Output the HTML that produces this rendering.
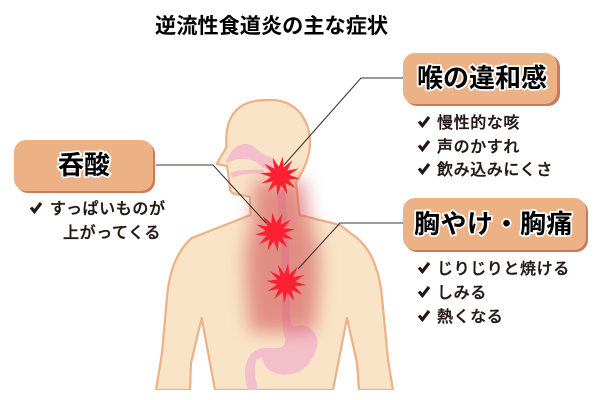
<!DOCTYPE html>
<html lang="ja">
<head>
<meta charset="utf-8">
<title>逆流性食道炎の主な症状</title>
<style>
html,body{margin:0;padding:0;background:#fff;width:600px;height:400px;overflow:hidden}
svg{display:block}
text{font-family:"Liberation Sans","Noto Sans CJK JP",sans-serif}
.t{font-size:26px;font-weight:700;fill:#000;stroke:#fff;stroke-width:3.5px;paint-order:stroke;stroke-linejoin:round;text-anchor:start}
.l{font-size:16px;font-weight:500;fill:#231815;stroke:#231815;stroke-width:.35px;letter-spacing:.6px}
.c{fill:none;stroke:#231815;stroke-width:3.2;stroke-linejoin:miter}
</style>
</head>
<body>
<svg width="600" height="400" viewBox="0 0 600 400" xmlns="http://www.w3.org/2000/svg">
<defs>
<filter id="b" filterUnits="userSpaceOnUse" x="190" y="140" width="190" height="250"><feGaussianBlur stdDeviation="9"/></filter>
<polygon id="s" fill="#fc2033" points="20,0 9,2.4 17.3,10 6.5,6.5 10,17.3 2.4,9 0,20 -2.4,9 -10,17.3 -6.5,6.5 -17.3,10 -9,2.4 -20,0 -9,-2.4 -17.3,-10 -6.5,-6.5 -10,-17.3 -2.4,-9 0,-20 2.4,-9 10,-17.3 6.5,-6.5 17.3,-10 9,-2.4"/>
<path id="k" class="c" d="M-5,-.5 L-1.6,3.6 L5,-5"/>
</defs>

<!-- body -->
<path fill="#f9e4c8" stroke="#ecb285" stroke-width="2.2" stroke-linejoin="round" d="M216.7,164 L226.5,147 C225,128 230,114 240,107 C250,100 262,100 270,100 C285,100 296,106 303,117 C310,128 312,143 308,157 C305,168 300,176 296,182 L299.5,215 L340,225 L357,238 C366,246 372,256 375,265 C379,276 381,286 382,297 L388,360 L393,390 L359,390 L357,363 L347,318 L333,390 L215,390 L201.7,318 L191,363 L190,390 L156,390 L162,353 L167,297 C168,285 170,276 173,267 C177,255 184,245 191.7,238 L250.5,215 L250,197 C244,195 240,195 235,194 C231,193 230,191 230,188 L228,172 L227,166 L216.7,164 Z"/>
<rect x="140" y="390" width="270" height="10" fill="#fff"/>

<!-- organs -->
<g fill="#f3bfca">
<path d="M226,162 C229,154 234,146 243,144 C250,143 255,147 260,152 C265,156 270,156 273,159 L274,171 L263,168 C260,165 257,161 250,160 C243,158 234,159 228,163 Z"/>
<path d="M230,173 C238,170 250,169 264,170 L264,175 C252,172 242,174 233,178 Z"/>
<path d="M277,190 L285,190 L289,247 L290,313 C290,320 291,324 293,327 C299,325 306,324 311,329 C317,334 319,342 316,350 C312,362 303,372 292,374 C282,376 272,373 267,368 C263,364 262,358 262,358 C259,358 256,359 256,362 C254,368 255,378 258,390 L248,390 C245,380 244,372 246,365 C248,355 254,349 265,348 L278,348 C283,347 286,344 285,338 C283,330 282,322 282,313 L281,247 Z"/>
</g>

<!-- glow -->
<g filter="url(#b)" opacity=".62">
<path fill="#d4585c" d="M254,180 L304,180 L310,222 L319,250 L319,290 L314,332 L250,332 L246,290 L245,250 L252,222 Z"/>
</g>

<!-- leaders -->
<g fill="none" stroke="#3c3532" stroke-width="1.1">
<path d="M404,78 L361,78 L284,165"/>
<path d="M156,165 L213,165 L266,223"/>
<path d="M404,223 L340,223 L298,269"/>
</g>

<!-- stars -->
<use href="#s" transform="translate(280,176) rotate(8)"/>
<use href="#s" transform="translate(275,232) rotate(-8)"/>
<use href="#s" transform="translate(286,283) rotate(6)"/>

<!-- title -->
<text x="155" y="33" style="font-size:21.2px;font-weight:700" fill="#000">逆流性食道炎の主な症状</text>

<!-- boxes -->
<rect x="405" y="55" width="155" height="51" rx="12" fill="#cc7a5e"/>
<rect x="403" y="53" width="154" height="51" rx="12" fill="#ecb285"/>
<text class="t" x="417" y="87">喉の違和感</text>

<rect x="16" y="142" width="139" height="51" rx="12" fill="#cc7a5e"/>
<rect x="14" y="140" width="139" height="51" rx="12" fill="#ecb285"/>
<text class="t" x="58" y="174">呑酸</text>

<rect x="405" y="200" width="183" height="52" rx="12" fill="#cc7a5e"/>
<rect x="403" y="198" width="183" height="52" rx="12" fill="#ecb285"/>
<text class="t" x="414" y="233" style="letter-spacing:.5px">胸やけ・胸痛</text>

<!-- lists -->
<use href="#k" x="424" y="122"/>
<use href="#k" x="424" y="146"/>
<use href="#k" x="424" y="169"/>
<text class="l" x="437" y="128">慢性的な咳</text>
<text class="l" x="437" y="152">声のかすれ</text>
<text class="l" x="437" y="175">飲み込みにくさ</text>

<use href="#k" x="36" y="208"/>
<text class="l" x="50" y="214">すっぱいものが</text>
<text class="l" x="63" y="238">上がってくる</text>

<use href="#k" x="424" y="268"/>
<use href="#k" x="424" y="292"/>
<use href="#k" x="424" y="316"/>
<text class="l" x="437" y="274">じりじりと焼ける</text>
<text class="l" x="437" y="298">しみる</text>
<text class="l" x="437" y="322">熱くなる</text>
</svg>
</body>
</html>
